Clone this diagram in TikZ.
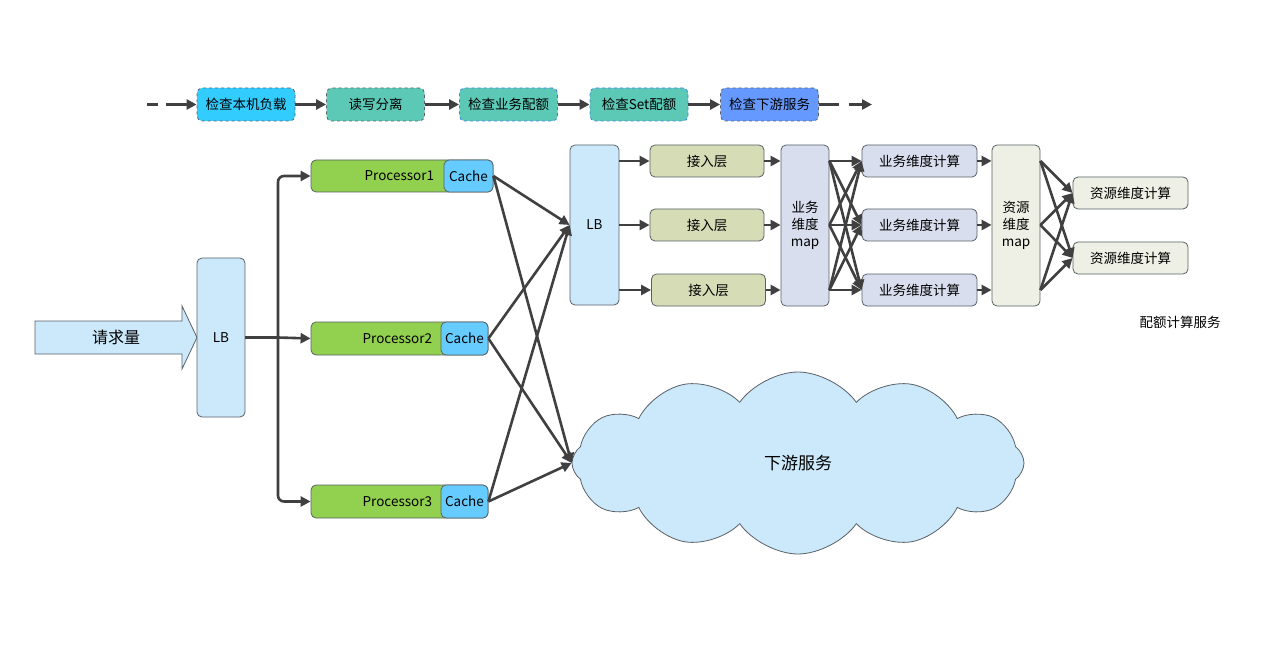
\documentclass[tikz,border=0pt]{standalone}
\usepackage{fontspec}
\setmainfont{Noto Sans CJK SC}
\usetikzlibrary{arrows.meta}
\usetikzlibrary{shapes.symbols}
\usetikzlibrary{positioning}
\usetikzlibrary{calc}

\begin{document}
\begin{tikzpicture}[x=1pt, y=-1pt, every node/.style ={font=\fontsize{13.5}{17}\selectfont, text=black}]
		% Quota service: request path and calculation pipeline

% Colors

\definecolor{bord}{rgb}{0.35,0.38,0.40}
\definecolor{arrgrey}{rgb}{0.25,0.25,0.25}
\definecolor{cyanbox}{HTML}{33CCFF}
\definecolor{tealbox}{HTML}{5CC9B6}
\definecolor{bluebox}{HTML}{6699FF}
\definecolor{dotblue}{HTML}{3D7FE0}
\definecolor{lblue}{HTML}{CCE9FC}
\definecolor{pgreen}{HTML}{92D050}
\definecolor{cacheblue}{HTML}{66CCFF}
\definecolor{khaki}{HTML}{D5DCB6}
\definecolor{lavender}{HTML}{D9DEEE}
\definecolor{ivory}{HTML}{EEF0E5}

\tikzset{
  box/.style={draw=bord, rounded corners=5pt, line width=0.8pt, inner sep=0pt, minimum height=33pt},
  stepbox/.style={box, minimum width=98pt, dashed},
  arr/.style={draw=arrgrey, line width=2.6pt, -{Triangle[length=10pt,width=10pt]}},
  link/.style={draw=arrgrey, line width=2.6pt},
}

\useasboundingbox (0,0) rectangle (1272,655);

% Check chain
\coordinate (s0) at (147,104.5);
\coordinate (e0) at (872,104.5);
\node[stepbox, fill=cyanbox, draw=bord]   (b1) at (246,104.5)   {检查本机负载};
\node[stepbox, fill=tealbox, draw=bord]   (b2) at (375.5,104.5) {读写分离};
\node[stepbox, fill=tealbox, draw=dotblue] (b3) at (508.5,104.5) {检查业务配额};
\node[stepbox, fill=tealbox, draw=dotblue] (b4) at (639,104.5)   {检查Set配额};
\node[stepbox, fill=bluebox, draw=bord]   (b5) at (769.5,104.5) {检查下游服务};

\draw[arr, dash pattern=on 11pt off 8pt on 40pt] (s0) -- (b1);
\draw[arr] (b1) -- (b2);
\draw[arr] (b2) -- (b3);
\draw[arr] (b3) -- (b4);
\draw[arr] (b4) -- (b5);
\draw[arr, dash pattern=on 20pt off 10pt on 40pt] (b5) -- (e0);

% Request and first LB
\filldraw[fill=lblue, draw=bord, line width=0.8pt] (35,321) -- (182,321) -- (182,306) -- (197,337.5) -- (182,369) -- (182,354) -- (35,354) -- cycle;
\node[font=\fontsize{16}{18}\selectfont] (req) at (116,337) {请求量};
\node[box, fill=lblue, minimum width=48pt, minimum height=159pt] (lb1) at (221,337.5) {LB};

% Processors
\node[box, fill=pgreen, minimum width=182pt, minimum height=32pt] (p1) at (402,176) {};
\node[box, fill=cacheblue, minimum width=49pt, minimum height=32pt] (c1) at (468.5,176) {Cache};
\node[anchor=east] (t1) at ([xshift=-6pt]c1.west) {Processor1};

\node[box, fill=pgreen, minimum width=177pt, minimum height=33pt] (p2) at (399.5,338.5) {};
\node[box, fill=cacheblue, minimum width=47pt, minimum height=33pt] (c2) at (464.5,338.5) {Cache};
\node[anchor=east] (t2) at ([xshift=-5pt]c2.west) {Processor2};

\node[box, fill=pgreen, minimum width=177pt, minimum height=33pt] (p3) at (399.5,501.5) {};
\node[box, fill=cacheblue, minimum width=47pt, minimum height=33pt] (c3) at (464.5,501.5) {Cache};
\node[anchor=east] (t3) at ([xshift=-5pt]c3.west) {Processor3};

\coordinate (fork) at (278,337.5);
\draw[link] (lb1.east) -- (fork);
\draw[arr, rounded corners=6pt] (fork) |- (p1.west);
\draw[arr] (fork) -- (p2.west);
\draw[arr, rounded corners=6pt] (fork) |- (p3.west);

% Quota calculation service
\node[box, fill=lblue, minimum width=49pt, minimum height=160pt] (lb2) at (594.5,225) {LB};

\node[box, fill=khaki, minimum width=114pt, minimum height=32pt] (a1) at (707,161) {接入层};
\node[box, fill=khaki, minimum width=114pt, minimum height=32pt] (a2) at (707,225) {接入层};
\node[box, fill=khaki, minimum width=114pt, minimum height=32pt] (a3) at (708.5,290) {接入层};

\node[box, fill=lavender, minimum width=48pt, minimum height=161pt, align=center] (m1) at (805,225.5) {业务\\维度\\map};

\node[box, fill=lavender, minimum width=115pt, minimum height=32pt] (k1) at (919.5,161) {业务维度计算};
\node[box, fill=lavender, minimum width=115pt, minimum height=32pt] (k2) at (919.5,225) {业务维度计算};
\node[box, fill=lavender, minimum width=115pt, minimum height=32pt] (k3) at (919.5,290) {业务维度计算};

\node[box, fill=ivory, minimum width=48pt, minimum height=161pt, align=center] (m2) at (1016,225.5) {资源\\维度\\map};

\node[box, fill=ivory, minimum width=115pt, minimum height=32pt] (r1) at (1130.5,193) {资源维度计算};
\node[box, fill=ivory, minimum width=115pt, minimum height=32pt] (r2) at (1130.5,258) {资源维度计算};

\node (svc) at (1180,322) {配额计算服务};

% Downstream
\node[cloud, cloud puffs=12, cloud puff arc=110, aspect=2.4, draw=bord, line width=0.8pt, fill=lblue,
      minimum width=452pt, minimum height=182pt, font=\fontsize{17}{20}\selectfont] (dl) at (798,463) {下游服务};

% Connections
\foreach \c in {c1,c2,c3}{
  \draw[arr] (\c.east) -- (lb2.west);
  \draw[arr] (\c.east) -- (dl.west);
}

\foreach \a in {a1,a2,a3}{
  \draw[arr] (lb2.east |- \a.west) -- (\a.west);
  \draw[arr] (\a.east) -- (m1.west |- \a.east);
}

\foreach \i in {k1,k2,k3}{
  \foreach \k in {k1,k2,k3}{
    \draw[arr] (m1.east |- \i.west) -- (\k.west);
  }
  \draw[arr] (\i.east) -- (m2.west |- \i.east);
  \foreach \r in {r1,r2}{
    \draw[arr] (m2.east |- \i.west) -- (\r.west);
  }
}
	\end{tikzpicture}
\end{document}
